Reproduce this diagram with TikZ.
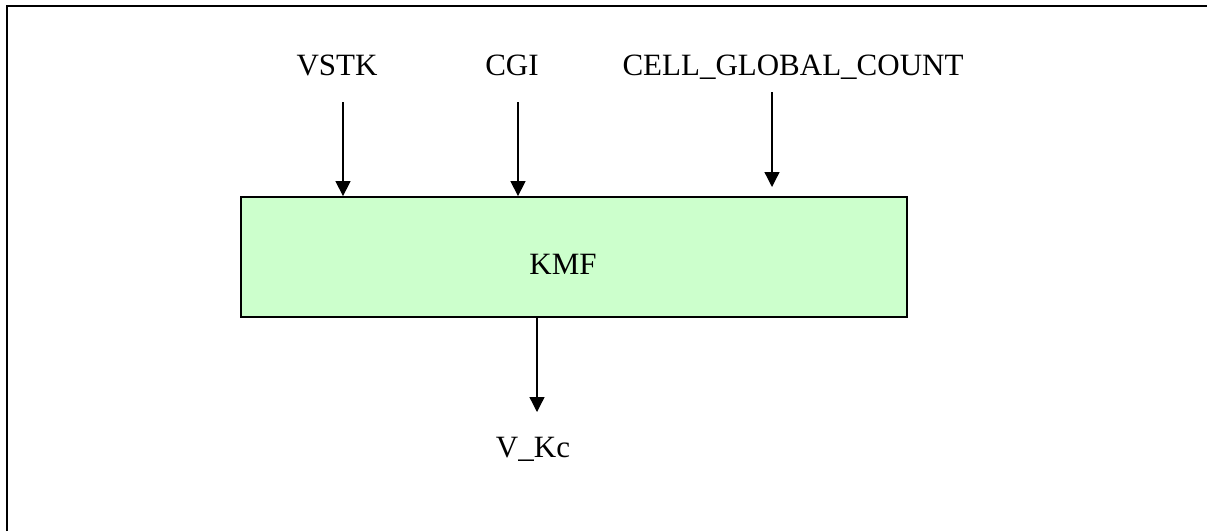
\documentclass[tikz,border=0pt]{standalone}
\usepackage{fontspec}
\setmainfont{Liberation Serif}
\usetikzlibrary{arrows.meta}
\definecolor{boxGreen}{HTML}{CCFFCC}
\begin{document}
\begin{tikzpicture}
[x=1pt,y=-1pt,
  lineDecorate/.style={-{Triangle[length=15pt,width=15pt]},line width=1.3pt},%
  labelDecorate/.style={anchor=base,inner sep=0pt,font=\fontsize{31}{37}\selectfont},
  boxDecorate/.style={draw,line width=1.8pt,fill=boxGreen,minimum width=666pt,minimum height=120pt,inner sep=0pt}]
\useasboundingbox (0,0) rectangle (1207,531);
%% outer frame
\draw[line width=2pt] (7,531) -- (7,6) -- (1207,6);
%% block
\node (kmf) at (574,257) [boxDecorate] {};
\node (kmfText) at (563,274) [labelDecorate] {KMF};
%% signal names
\foreach \nodename/\txt/\x/\y in {
  vstk/VSTK/337/75, cgi/CGI/512/75,
  cell/CELL\_GLOBAL\_COUNT/793/75, vkc/V\_Kc/533/457}
{
  \node (\nodename) at (\x,\y) [labelDecorate] {\txt};
}
%% arrow ends
\foreach \coordname/\x/\y in {
  vstkIn/343/102, cgiIn/518/102, cellIn/772/92, cellOut/772/187, vkcOut/537/412}
{
  \coordinate (\coordname) at (\x,\y);
}
%% arrows
\draw[lineDecorate] (vstkIn) -- (vstkIn |- kmf.north);
\draw[lineDecorate] (cgiIn) -- (cgiIn |- kmf.north);
\draw[lineDecorate] (cellIn) -- (cellOut);
\draw[lineDecorate] (kmf.south -| vkcOut) -- (vkcOut);
\end{tikzpicture}
\end{document}
